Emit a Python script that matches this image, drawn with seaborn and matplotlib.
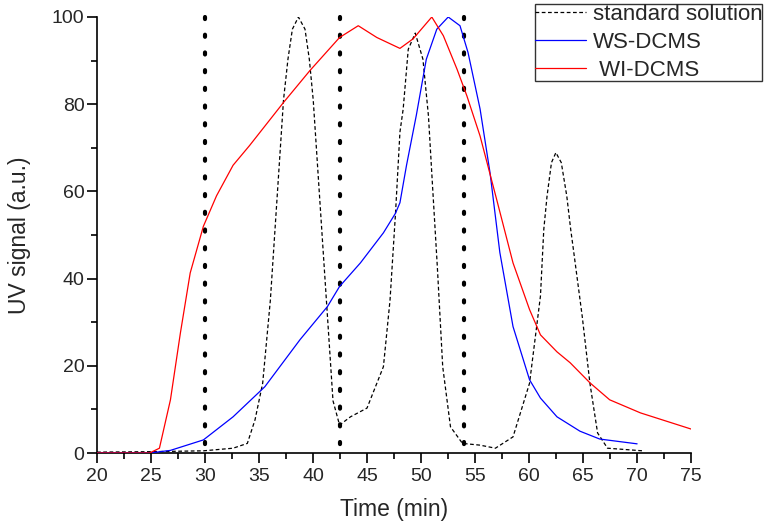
import numpy as np
import pandas as pd
import seaborn as sns
import matplotlib.pyplot as plt
from matplotlib.ticker import MultipleLocator

# Данные
std_time = [20, 24.87, 29.85, 32.60, 33.92, 34.63, 35.34, 36.05, 36.66, 37.27, 37.68, 38.09,
            38.65, 39.26, 39.66, 40.02, 40.63, 41.34, 41.85, 42.46, 43.47, 45.00, 46.52,
            47.13, 47.64, 48.05, 48.35, 48.82, 49.47, 50.18, 50.69, 51.05, 51.51, 52.01,
            52.73, 53.84, 55.47, 56.89, 58.52, 60.05, 61.06, 61.37, 61.67, 62.08, 62.49,
            62.99, 63.50, 63.86, 64.11, 64.93, 65.64, 66.35, 67.27, 70.52]
std_signal = [0.2, 0.3, 0.5, 1.1, 2.2, 7.6, 16, 35, 58, 81, 90.3, 97.2,
              100, 97.2, 90.3, 81, 58, 31.3, 12, 6.4, 8.3, 10.3, 19.8,
              35, 55, 73.6, 78.9, 92.6, 96.3, 90.3, 77.3, 62, 42.8, 19.8,
              6, 2.2, 1.8, 1.1, 3.7, 16, 36, 51.3, 58.9, 66.6, 68.9,
              66.6, 58.9, 51.3, 46.7, 31.3, 16, 4.6, 1.1, 0.5]

ws_time = [20, 24.87, 26.80, 29.85, 32.60, 35.54, 38.80, 41.34, 42.46, 44.39, 46.52, 47.64,
           48.05, 48.66, 49.57, 50.49, 51.46, 52.52, 53.61, 54.35, 55.47, 56.39, 57.30,
           58.52, 60.05, 61.06, 62.59, 64.72, 66.55, 70.01]
ws_signal = [0, 0, 0.6, 3, 8.3, 15.2, 26, 33.6, 38.2, 43.6, 50.5, 55,
             57.4, 66, 77.5, 90.3, 97.2, 100, 98, 91.9, 78.9, 64.3, 46,
             29, 16.8, 12.6, 8.3, 5, 3.2, 2.1]

wi_time = [20, 24.87, 25.78, 26.80, 27.72, 28.63, 29.85, 31.07, 32.60, 34.12, 37.27, 39.71,
           42.46, 44.19, 45.91, 48.05, 49.27, 51.00, 52.07, 53.34, 54.25, 55.47, 57.00,
           58.52, 60.05, 61.06, 62.59, 63.81, 65.64, 67.47, 70.32, 75]
wi_signal = [0, 0, 1.1, 12.2, 27.5, 41.3, 52, 59, 66, 70.5, 80.4, 87.7,
             95.3, 98, 95.3, 92.8, 95, 100, 95.7, 88, 81.9, 72.7, 58.2,
             43.6, 32.9, 27.1, 23.2, 20.7, 16.1, 12.2, 9.2, 5.5]

cut_times = [30, 42.5, 54]

sns.set_style('ticks')
plt.rcParams['font.family'] = ['Liberation Sans', 'DejaVu Sans']

fig = plt.figure(figsize=(7.76, 5.23), dpi=100)
ax = fig.add_axes([97 / 776, 1 - 453 / 523, 594 / 776, 436 / 523])

# Вертикальные пунктирные линии
for t in cut_times:
    ax.plot([t, t], [100, 0], color='black', lw=3.0, linestyle=(0, (0.5, 3.75)),
            dash_capstyle='round', zorder=1, clip_on=False)

sns.lineplot(x=std_time, y=std_signal, ax=ax, color='black', lw=0.9,
             linestyle=(0, (3, 2)), label='standard solution', zorder=3)
sns.lineplot(x=ws_time, y=ws_signal, ax=ax, color='blue', lw=0.9,
             label='WS-DCMS', zorder=3)
sns.lineplot(x=wi_time, y=wi_signal, ax=ax, color='red', lw=0.9,
             label=' WI-DCMS', zorder=3)

ax.set_xlim(20, 75)
ax.set_ylim(0, 100)
ax.xaxis.set_major_locator(MultipleLocator(5))
ax.xaxis.set_minor_locator(MultipleLocator(2.5))
ax.yaxis.set_major_locator(MultipleLocator(20))
ax.yaxis.set_minor_locator(MultipleLocator(10))
ax.tick_params(which='major', length=7, width=1.2, labelsize=14, color='black', pad=2)
ax.tick_params(axis='x', which='major', pad=4)
ax.tick_params(which='minor', length=4, width=1.2, color='black')
for s in ['left', 'bottom']:
    ax.spines[s].set_linewidth(1.2)
    ax.spines[s].set_color('black')
sns.despine(ax=ax)

ax.set_xlabel('Time (min)', fontsize=16.5, labelpad=9)
ax.set_ylabel('UV signal (a.u.)', fontsize=16.5, labelpad=15)

handles, labels = ax.get_legend_handles_labels()
ax.get_legend().remove()
leg = fig.legend(handles, labels, loc='lower left', bbox_to_anchor=(535 / 776, 1 - 81 / 523),
                 fontsize=16, frameon=True, fancybox=False, handlelength=2.3,
                 borderaxespad=0, borderpad=0.0, labelspacing=0.32, handletextpad=0.3)
leg.get_frame().set_edgecolor('black')
leg.get_frame().set_linewidth(1.0)

plt.savefig('out.png', dpi=100)
